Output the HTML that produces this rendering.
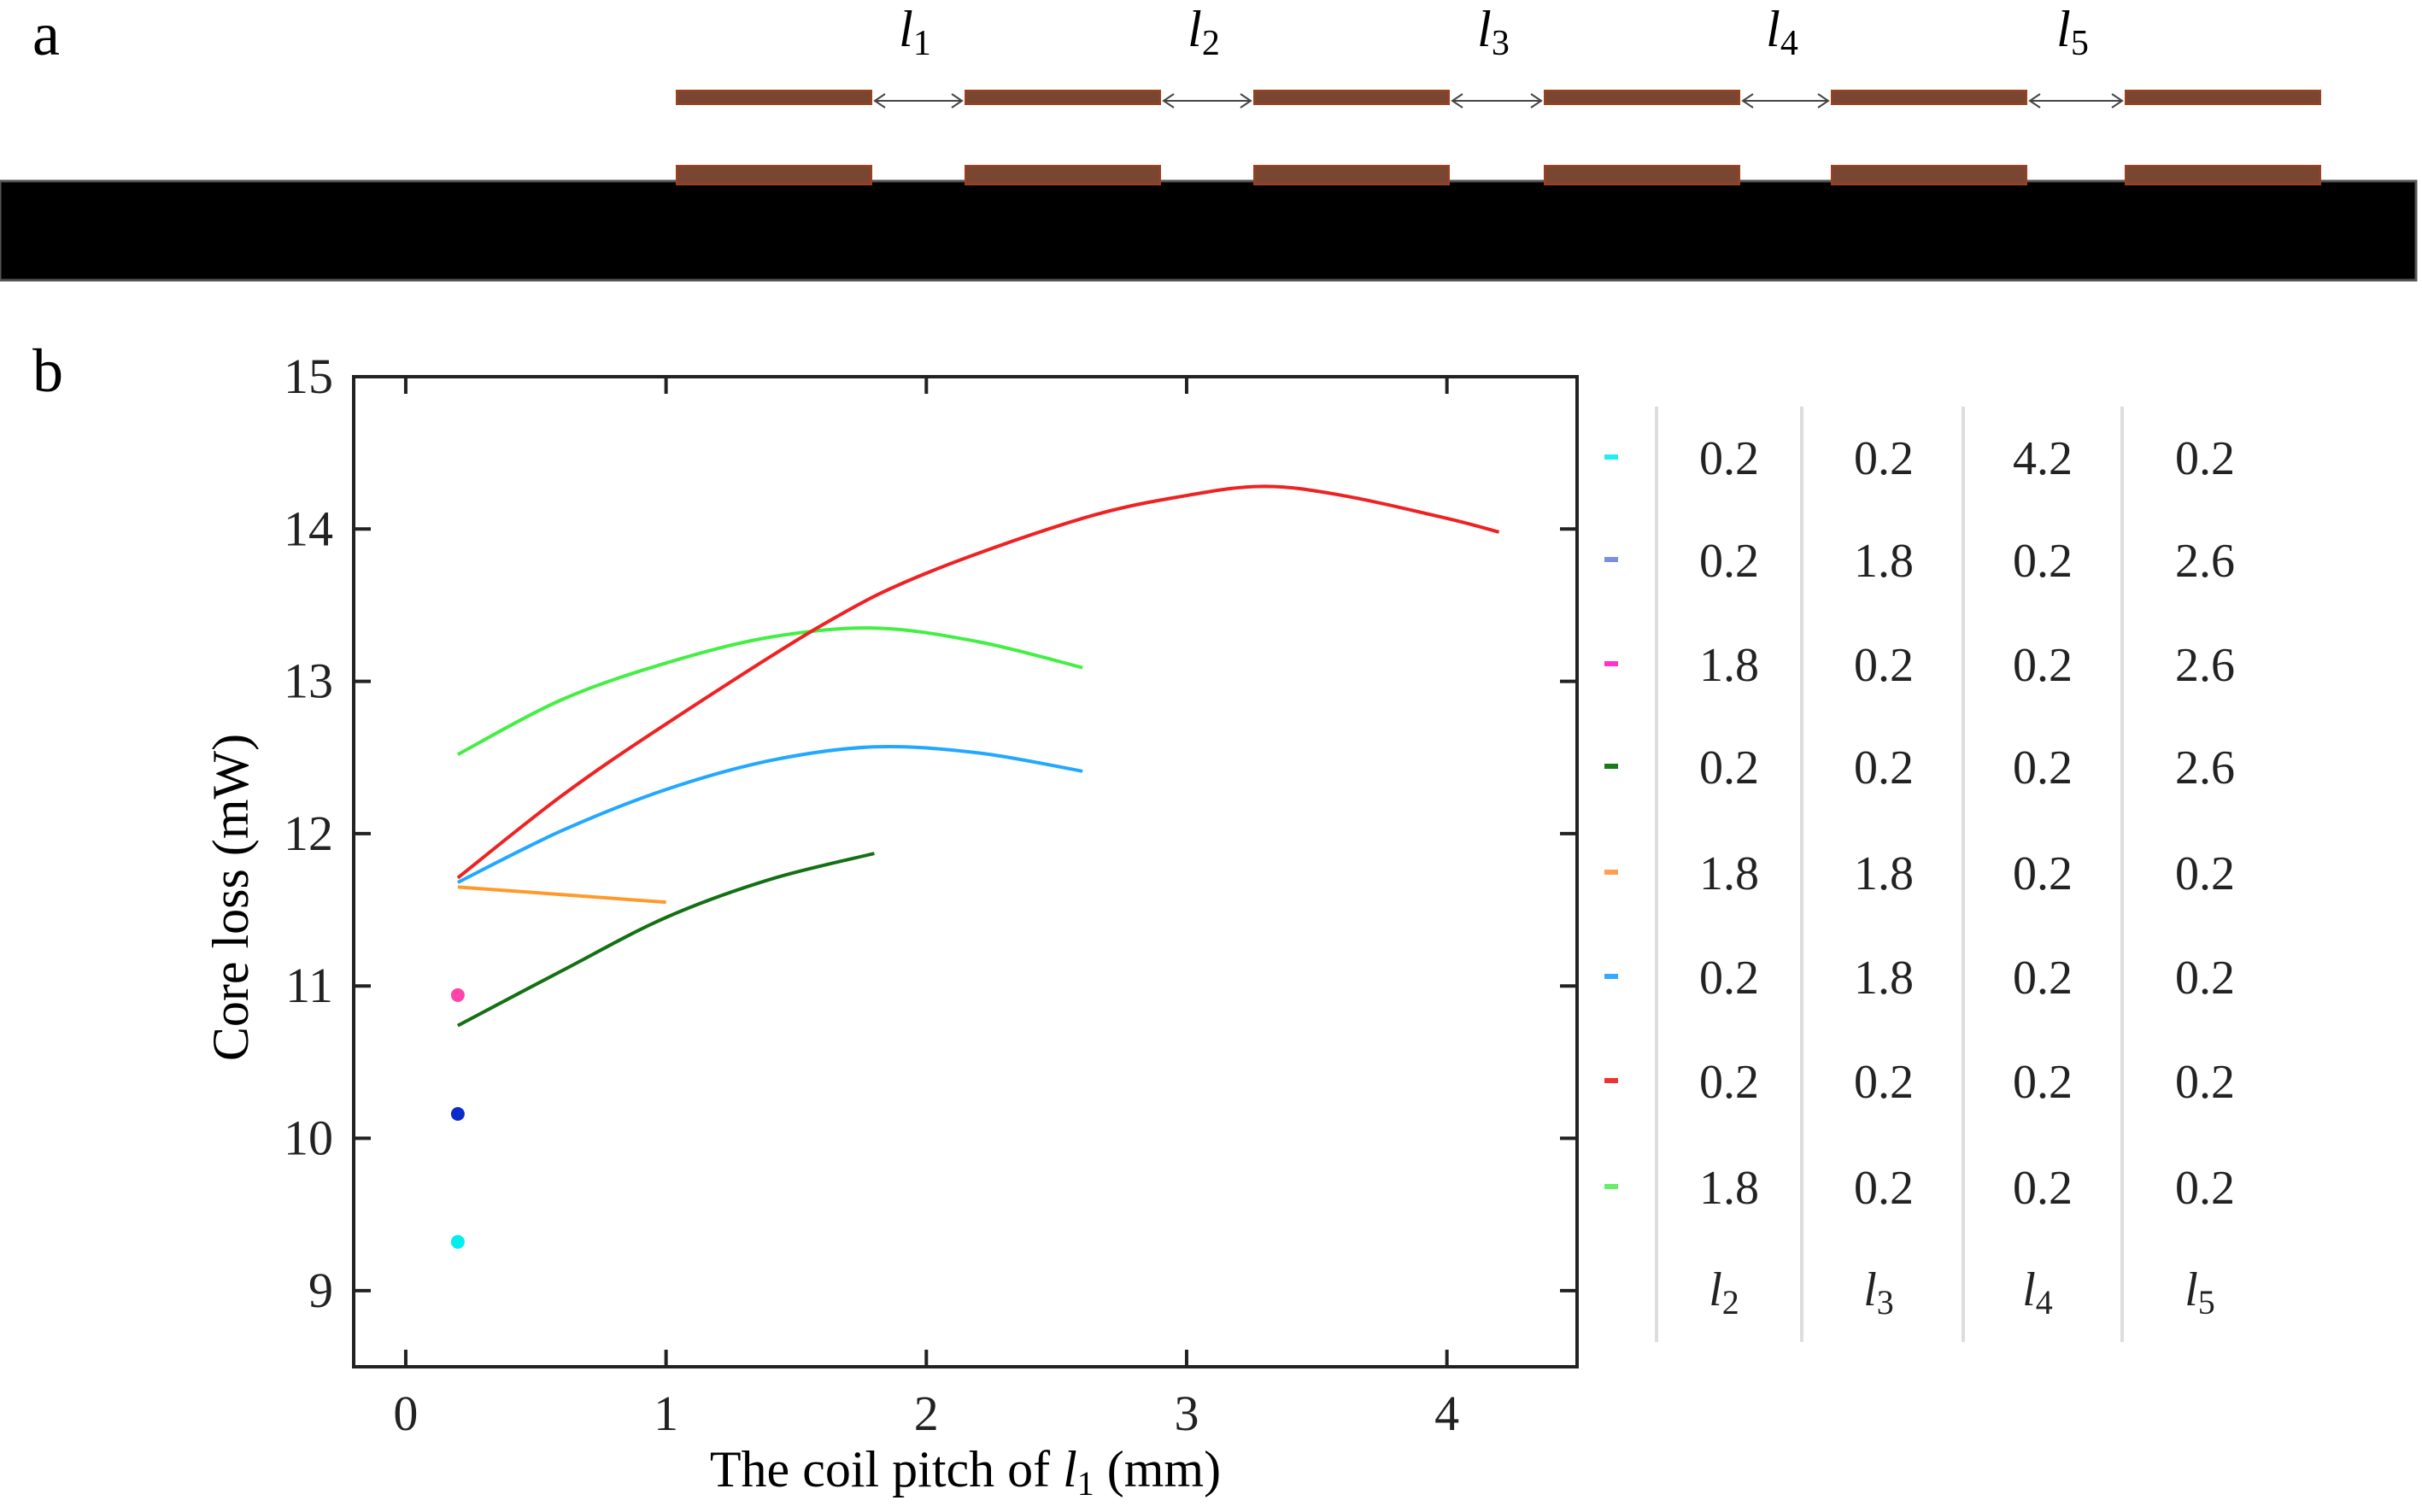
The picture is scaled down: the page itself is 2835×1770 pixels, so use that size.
<!DOCTYPE html>
<html><head><meta charset="utf-8"><style>
html,body{margin:0;padding:0;background:#fff;}
svg{display:block;font-family:"Liberation Serif",serif;}
</style></head><body>
<svg id="fig" width="2835" height="1770" viewBox="0 0 2835 1770" xmlns="http://www.w3.org/2000/svg">
<g>
<text x="38" y="64" font-size="72">a</text>
<rect x="0" y="212" width="2828" height="116" fill="#000" stroke="#555" stroke-width="3"/>
<g id="coils"></g>
</g>
<g>
<text x="38" y="458" font-size="72">b</text>
<g id="chart"></g>
<g id="legend"></g>
</g>
</svg>
<script>
const NS="http://www.w3.org/2000/svg";
function mk(tag,attrs,parent,txt){const e=document.createElementNS(NS,tag);for(const k in attrs)e.setAttribute(k,attrs[k]);if(txt!==undefined)e.textContent=txt;parent.appendChild(e);return e;}

// ---- panel a ----
const coilX=[792,1130,1468,1808,2144,2488];
const coilW=228;
const gapLabels=["1","2","3","4","5"];
const coils=document.getElementById('coils');
coilX.forEach((x,i)=>{
  let t=mk('rect',{x:x,y:106,width:coilW,height:16,fill:'#7a4632',stroke:'#a0401c','stroke-width':2},coils);
  
  
  let b=mk('rect',{x:x,y:194,width:coilW,height:22,fill:'#7a4632',stroke:'#a0401c','stroke-width':2},coils);
  
  
  if(i<coilX.length-1){
    const x1=x+coilW, x2=coilX[i+1];
    let l=mk('line',{x1:x1+4,y1:118,x2:x2-4,y2:118,stroke:'#444','stroke-width':2},coils);
    
    
    mk('path',{d:`M${x1+16},110 L${x1+4},118 L${x1+16},126 M${x2-16},110 L${x2-4},118 L${x2-16},126`,stroke:'#444','stroke-width':2,fill:'none'},coils);
    const cx=(x1+x2)/2;
    let tx=mk('text',{x:cx-4,y:54,'font-size':60,'font-style':'italic','text-anchor':'middle'},coils);
    
    
    tx.appendChild(document.createTextNode('l'));
    mk('tspan',{'font-size':42,'font-style':'normal',dy:10},tx,gapLabels[i]);
  }
});

// ---- panel b chart ----
const xTicks=[0,1,2,3,4];
const yTicks=[9,10,11,12,13,14,15];
const redX=[0.2,0.6,1.0,1.6,2.0,2.6,3.0,3.3,3.6,4.0,4.2];
const redY=[11.71,12.25,12.72,13.37,13.71,14.07,14.22,14.28,14.22,14.07,13.98];
const greenX=[0.2,0.6,1.0,1.4,1.8,2.2,2.6];
const greenY=[12.52,12.88,13.12,13.29,13.35,13.26,13.09];
const blueX=[0.2,0.6,1.0,1.4,1.8,2.2,2.6];
const blueY=[11.68,12.02,12.29,12.48,12.57,12.53,12.41];
const orangeX=[0.2,1.0];
const orangeY=[11.65,11.55];
const darkGreenX=[0.2,0.6,1.0,1.4,1.8];
const darkGreenY=[10.74,11.10,11.45,11.70,11.87];
const pointX=[0.2,0.2,0.2];
const pointY=[10.94,10.16,9.32];

const L=414,R=1846,T=441,B=1600;
const xMin=-0.2,xMax=4.5,yMin=8.5,yMax=15;
const sx=v=>L+(v-xMin)/(xMax-xMin)*(R-L);
const sy=v=>B-(v-yMin)/(yMax-yMin)*(B-T);
const ch=document.getElementById('chart');
let frame=mk('rect',{x:L,y:T,width:R-L,height:B-T,fill:'none',stroke:'#222','stroke-width':4},ch);


xTicks.forEach(v=>{
  const x=sx(v);
  mk('line',{x1:x,y1:B,x2:x,y2:B-20,stroke:'#222','stroke-width':4},ch);
  mk('line',{x1:x,y1:T,x2:x,y2:T+20,stroke:'#222','stroke-width':4},ch);
  let t=mk('text',{x:x,y:B+74,'font-size':58,'text-anchor':'middle',fill:'#222'},ch,String(v));
  
  
});
yTicks.forEach(v=>{
  const y=sy(v);
  mk('line',{x1:L,y1:y,x2:L+20,y2:y,stroke:'#222','stroke-width':4},ch);
  mk('line',{x1:R,y1:y,x2:R-20,y2:y,stroke:'#222','stroke-width':4},ch);
  let t=mk('text',{x:L-24,y:y+19,'font-size':58,'text-anchor':'end',fill:'#222'},ch,String(v));
  
  
});
let yl=mk('text',{x:0,y:0,'font-size':60,'text-anchor':'middle',transform:`translate(290,${(T+B)/2+30}) rotate(-90)`},ch,'Core loss (mW)');


let xl=mk('text',{x:1130,y:1740,'font-size':60,'text-anchor':'middle'},ch);


xl.appendChild(document.createTextNode('The coil pitch of '));
mk('tspan',{'font-style':'italic'},xl,'l');
mk('tspan',{'font-size':40,dy:10},xl,'1');
mk('tspan',{dy:-10},xl,' (mm)');

const series=[
 {n:'series-green',x:greenX,y:greenY,c:'#44ee44'},
 {n:'series-red',x:redX,y:redY,c:'#ee2222'},
 {n:'series-blue',x:blueX,y:blueY,c:'#22a8ff'},
 {n:'series-orange',x:orangeX,y:orangeY,c:'#ff9a2a'},
 {n:'series-dark-green',x:darkGreenX,y:darkGreenY,c:'#147014'}
];
function smooth(px){let d=`M${px[0][0]},${px[0][1]}`;for(let i=0;i<px.length-1;i++){const p0=px[i-1]||px[i],p1=px[i],p2=px[i+1],p3=px[i+2]||p2;d+=` C${p1[0]+(p2[0]-p0[0])/6},${p1[1]+(p2[1]-p0[1])/6} ${p2[0]-(p3[0]-p1[0])/6},${p2[1]-(p3[1]-p1[1])/6} ${p2[0]},${p2[1]}`;}return d;}
series.forEach(s=>{
  const px=s.x.map((v,i)=>[sx(v),sy(s.y[i])]);
  let p=mk('path',{d:smooth(px),fill:'none',stroke:s.c,'stroke-width':4},ch);
  
  
});
const pointColors=['#ff44aa','#0a2ccc','#00eeee'];
const pointNames=['point-magenta','point-dark-blue','point-cyan'];
pointX.forEach((v,i)=>{
  let c=mk('circle',{cx:sx(v),cy:sy(pointY[i]),r:8,fill:pointColors[i]},ch);
  
  
});

// ---- legend table ----
const legColors=['#22eeee','#7b8fe0','#ff33cc','#1a7a1a','#ffa050','#33aaff','#ee3333','#66ee66'];
const colL2=['0.2','0.2','1.8','0.2','1.8','0.2','0.2','1.8'];
const colL3=['0.2','1.8','0.2','0.2','1.8','1.8','0.2','0.2'];
const colL4=['4.2','0.2','0.2','0.2','0.2','0.2','0.2','0.2'];
const colL5=['0.2','2.6','2.6','2.6','0.2','0.2','0.2','0.2'];
const rowY=[536,656,778,898,1022,1144,1266,1390];
const colX=[2024,2205,2391,2581];
const sepX=[1939,2109,2298,2484];
const lg=document.getElementById('legend');
sepX.forEach((x,i)=>{
  let l=mk('line',{x1:x,y1:476,x2:x,y2:1571,stroke:'#ddd','stroke-width':4},lg);
  
  
});
const cols=[colL2,colL3,colL4,colL5];
rowY.forEach((y,r)=>{
  let m=mk('rect',{x:1878,y:y-4,width:16,height:6,fill:legColors[r]},lg);
  
  
  cols.forEach((col,c)=>{
    let t=mk('text',{x:colX[c],y:y+19,'font-size':56,'text-anchor':'middle',fill:'#222'},lg,col[r]);
    
    
  });
});
['2','3','4','5'].forEach((s,c)=>{
  let t=mk('text',{x:colX[c]-6,y:1528,'font-size':56,'text-anchor':'middle','font-style':'italic',fill:'#222'},lg);
  
  
  t.appendChild(document.createTextNode('l'));
  mk('tspan',{'font-size':40,'font-style':'normal',dy:10},t,s);
});
</script>
</body></html>
